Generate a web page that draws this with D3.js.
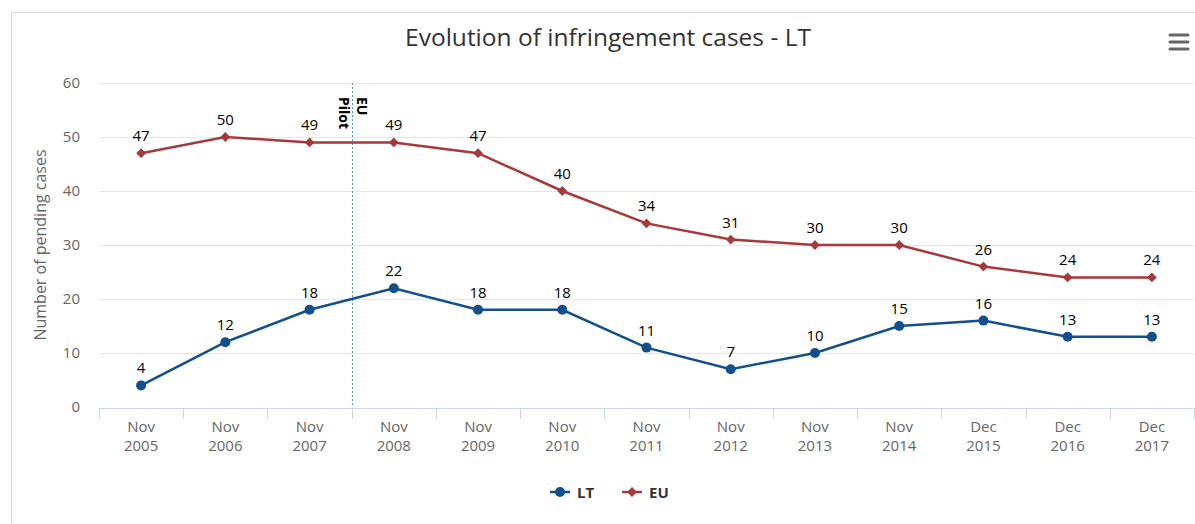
<!DOCTYPE html>
<html>
<head>
<meta charset="utf-8">
<script src="https://cdn.jsdelivr.net/npm/d3@7"></script>
<style>
  body { margin: 0; background: #fff; }
  svg { font-family: "Open Sans", "Noto Sans", sans-serif; }
</style>
</head>
<body>
<script>
(function (d3) {
	'use strict';

	var width = 1195,
	    height = 524;

	// data
	var months = ['Nov', 'Nov', 'Nov', 'Nov', 'Nov', 'Nov', 'Nov', 'Nov', 'Nov', 'Nov', 'Dec', 'Dec', 'Dec'];
	var years = ['2005', '2006', '2007', '2008', '2009', '2010', '2011', '2012', '2013', '2014', '2015', '2016', '2017'];
	var ltValues = [4, 12, 18, 22, 18, 18, 11, 7, 10, 15, 16, 13, 13];
	var euValues = [47, 50, 49, 49, 47, 40, 34, 31, 30, 30, 26, 24, 24];
	var yTicks = [0, 10, 20, 30, 40, 50, 60];

	var ltColor = '#134f8c',
	    euColor = '#a6393b';

	var left = 99, right = 1194, top = 83, bottom = 407;

	var svg = d3.select('body')
		.append('svg')
		.attr('width', width)
		.attr('height', height);

	// frame
	svg.append('rect')
		.attr('x', 11.5).attr('y', 12.5)
		.attr('width', 1200).attr('height', 600)
		.attr('fill', 'none')
		.attr('stroke', '#d8d8d8');

	var x = d3.scaleBand()
		.domain(d3.range(years.length))
		.range([left, right]);

	var y = d3.scaleLinear()
		.domain([0, 60])
		.range([bottom, top]);

	var cx = function (i) { return x(i) + x.bandwidth() / 2; };

	// diamond = rotated square
	var diamond = d3.symbol().type(d3.symbolSquare).size(48);

	// gridlines
	svg.append('g').selectAll('line')
		.data(yTicks.filter(function (d) { return d > 0; }))
		.enter().append('line')
		.attr('x1', left).attr('x2', right)
		.attr('y1', function (d) { return Math.round(y(d)) + 0.5; })
		.attr('y2', function (d) { return Math.round(y(d)) + 0.5; })
		.attr('stroke', '#e6e6e6');

	// y labels
	svg.append('g').selectAll('text')
		.data(yTicks)
		.enter().append('text')
		.attr('x', 80)
		.attr('y', function (d) { return y(d) + 5; })
		.attr('text-anchor', 'end')
		.attr('fill', '#666')
		.attr('font-size', '15px')
		.text(function (d) { return d; });

	svg.append('text')
		.attr('transform', 'translate(46,245) rotate(-90)')
		.attr('text-anchor', 'middle')
		.attr('fill', '#666')
		.attr('font-size', '16px')
		.text('Number of pending cases');

	// x axis
	svg.append('line')
		.attr('x1', left).attr('x2', right)
		.attr('y1', bottom + 1.5).attr('y2', bottom + 1.5)
		.attr('stroke', '#ccd6eb');

	svg.append('g').selectAll('line')
		.data(d3.range(years.length + 1))
		.enter().append('line')
		.attr('x1', function (i) { return Math.round(left + i * x.bandwidth()) + 0.5; })
		.attr('x2', function (i) { return Math.round(left + i * x.bandwidth()) + 0.5; })
		.attr('y1', bottom + 1)
		.attr('y2', bottom + 12)
		.attr('stroke', '#ccd6eb');

	var xl = svg.append('g').selectAll('text')
		.data(years)
		.enter().append('text')
		.attr('text-anchor', 'middle')
		.attr('fill', '#666')
		.attr('font-size', '15px');
	xl.append('tspan')
		.attr('x', function (d, i) { return cx(i); })
		.attr('y', 432)
		.text(function (d, i) { return months[i]; });
	xl.append('tspan')
		.attr('x', function (d, i) { return cx(i); })
		.attr('y', 451)
		.text(function (d) { return d; });

	// EU Pilot plot line
	var pilotX = Math.round(x(3)) + 0.5;
	svg.append('line')
		.attr('x1', pilotX).attr('x2', pilotX)
		.attr('y1', top).attr('y2', bottom)
		.attr('stroke', '#4d9da1')
		.attr('stroke-dasharray', '2,2');

	var pl = svg.append('text')
		.attr('transform', 'translate(' + pilotX + ',' + (top + 14) + ') rotate(90)')
		.attr('font-size', '14px')
		.attr('font-weight', 'bold')
		.attr('fill', '#000');
	pl.append('tspan').attr('x', 0).attr('y', -4).text('EU');
	pl.append('tspan').attr('x', 0).attr('y', 14).text('Pilot');

	var line = d3.line()
		.x(function (d, i) { return cx(i); })
		.y(function (d) { return y(d); });

	// EU series
	svg.append('path')
		.datum(euValues)
		.attr('d', line)
		.attr('fill', 'none')
		.attr('stroke', euColor)
		.attr('stroke-width', 2.5);

	svg.append('g').selectAll('path')
		.data(euValues)
		.enter().append('path')
		.attr('d', diamond)
		.attr('transform', function (d, i) { return 'translate(' + cx(i) + ',' + y(d) + ') rotate(45)'; })
		.attr('fill', euColor);

	// LT series
	svg.append('path')
		.datum(ltValues)
		.attr('d', line)
		.attr('fill', 'none')
		.attr('stroke', ltColor)
		.attr('stroke-width', 2.5);

	svg.append('g').selectAll('circle')
		.data(ltValues)
		.enter().append('circle')
		.attr('cx', function (d, i) { return cx(i); })
		.attr('cy', function (d) { return y(d); })
		.attr('r', 5)
		.attr('fill', ltColor);

	// data labels
	[euValues, ltValues].forEach(function (vals) {
		svg.append('g').selectAll('text')
			.data(vals)
			.enter().append('text')
			.attr('x', function (d, i) { return cx(i); })
			.attr('y', function (d) { return y(d) - 12; })
			.attr('text-anchor', 'middle')
			.attr('font-size', '15px')
			.attr('fill', '#000')
			.text(function (d) { return d; });
	});

	// title
	svg.append('text')
		.attr('x', 608).attr('y', 46)
		.attr('text-anchor', 'middle')
		.attr('font-size', '24.5px')
		.attr('fill', '#333')
		.text('Evolution of infringement cases - LT');

	// menu icon
	svg.append('g').selectAll('line')
		.data([0, 1, 2])
		.enter().append('line')
		.attr('x1', 1170).attr('x2', 1188)
		.attr('y1', function (d) { return 35 + d * 7; })
		.attr('y2', function (d) { return 35 + d * 7; })
		.attr('stroke', '#666')
		.attr('stroke-width', 3)
		.attr('stroke-linecap', 'round');

	// legend
	var legend = [
		{ name: 'LT', color: ltColor, x: 550 },
		{ name: 'EU', color: euColor, x: 622 }
	];
	var lg = svg.append('g').selectAll('g')
		.data(legend)
		.enter().append('g')
		.attr('transform', function (d) { return 'translate(' + d.x + ',492)'; });
	lg.append('line')
		.attr('x1', 0).attr('x2', 20)
		.attr('stroke', function (d) { return d.color; })
		.attr('stroke-width', 2.5);
	lg.filter(function (d) { return d.name === 'LT'; })
		.append('circle').attr('cx', 10).attr('r', 5)
		.attr('fill', function (d) { return d.color; });
	lg.filter(function (d) { return d.name === 'EU'; })
		.append('path')
		.attr('d', diamond)
		.attr('transform', 'translate(10,0) rotate(45)')
		.attr('fill', function (d) { return d.color; });
	lg.append('text')
		.attr('x', 27).attr('y', 5.5)
		.attr('font-size', '15px')
		.attr('font-weight', 'bold')
		.attr('fill', '#333')
		.text(function (d) { return d.name; });

})(d3);
</script>
</body>
</html>
